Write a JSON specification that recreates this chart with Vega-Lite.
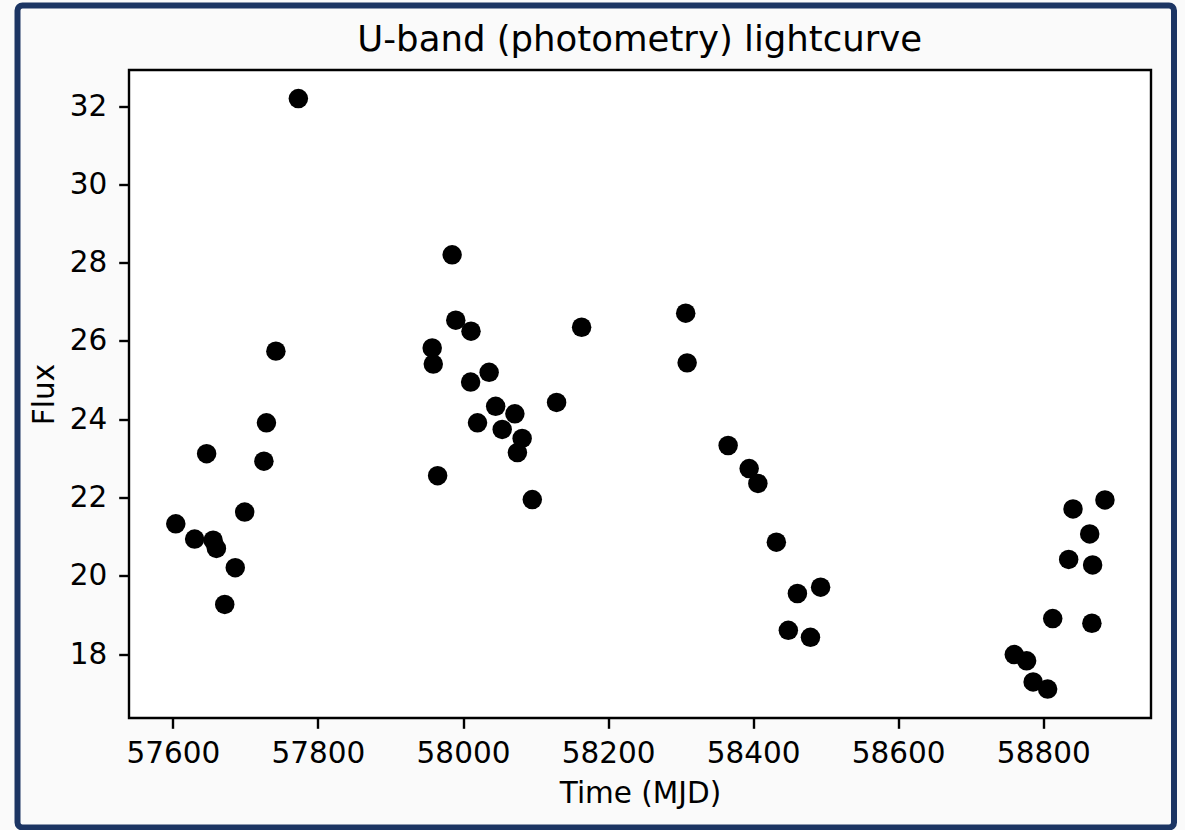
{
  "$schema": "https://vega.github.io/schema/vega-lite/v6.json",
  "autosize": {"type": "none"},
  "width": 1156.5,
  "height": 822,
  "padding": {"left": 17.5, "top": 5.5, "right": 11, "bottom": 2.5},
  "background": "#fafafa",
  "config": {
    "font": "DejaVu Sans",
    "view": {"fill": "#fafafa", "stroke": "#1c3563", "strokeWidth": 6, "cornerRadius": 5},
    "axis": {
      "grid": false,
      "domain": false,
      "tickColor": "#000000",
      "tickSize": 10.3,
      "tickWidth": 2.4,
      "labelFont": "DejaVu Sans",
      "labelFontSize": 29.5,
      "labelColor": "#000000",
      "labelFlush": false,
      "labelOverlap": false,
      "titleFont": "DejaVu Sans",
      "titleFontSize": 29.5,
      "titleFontWeight": "normal",
      "titleColor": "#000000",
      "titleBaseline": "alphabetic"
    }
  },
  "title": {
    "text": "U-band (photometry) lightcurve",
    "font": "DejaVu Sans",
    "fontSize": 35.5,
    "fontWeight": "normal",
    "color": "#000000",
    "anchor": "middle",
    "frame": "group",
    "baseline": "alphabetic",
    "offset": -49,
    "dx": 44,
    "dy": 32
  },
  "encoding": {
    "x": {
      "type": "quantitative",
      "scale": {"domain": [57539.5, 58948.5], "range": [111.5, 1133.5], "nice": false, "zero": false},
      "axis": {
        "title": "Time (MJD)",
        "orient": "bottom",
        "offset": -109.5,
        "values": [57600, 57800, 58000, 58200, 58400, 58600, 58800],
        "format": "d",
        "labelBaseline": "alphabetic",
        "labelPadding": 34.2,
        "titleY": 84
      }
    },
    "y": {
      "type": "quantitative",
      "scale": {"domain": [16.37, 32.92], "range": [712.5, 64.5], "nice": false, "zero": false},
      "axis": {
        "title": "Flux",
        "orient": "left",
        "offset": -111.5,
        "values": [18, 20, 22, 24, 26, 28, 30, 32],
        "format": "d",
        "labelBaseline": "middle",
        "labelPadding": 12,
        "titleX": -76,
        "titleAngle": -90
      }
    }
  },
  "layer": [
    {
      "data": {"values": [{"x0": 57539.5, "x1": 58948.5, "y0": 16.37, "y1": 32.92}]},
      "mark": {"type": "rect", "fill": "#ffffff", "stroke": "#000000", "strokeWidth": 2.4},
      "encoding": {
        "x": {"field": "x0"},
        "x2": {"field": "x1"},
        "y": {"field": "y0"},
        "y2": {"field": "y1"}
      }
    },
    {
      "data": {
        "values": [
          {"mjd": 57604, "flux": 21.33},
          {"mjd": 57630, "flux": 20.94},
          {"mjd": 57646.5, "flux": 23.12},
          {"mjd": 57655.5, "flux": 20.91},
          {"mjd": 57660, "flux": 20.70},
          {"mjd": 57671.5, "flux": 19.27},
          {"mjd": 57686, "flux": 20.21},
          {"mjd": 57699, "flux": 21.63},
          {"mjd": 57725.5, "flux": 22.93},
          {"mjd": 57729, "flux": 23.91},
          {"mjd": 57742, "flux": 25.74},
          {"mjd": 57773, "flux": 32.19},
          {"mjd": 57957.5, "flux": 25.82},
          {"mjd": 57959, "flux": 25.41},
          {"mjd": 57965, "flux": 22.56},
          {"mjd": 57985, "flux": 28.20},
          {"mjd": 57990, "flux": 26.53},
          {"mjd": 58010.5, "flux": 24.95},
          {"mjd": 58011, "flux": 26.25},
          {"mjd": 58020, "flux": 23.91},
          {"mjd": 58036, "flux": 25.20},
          {"mjd": 58045, "flux": 24.33},
          {"mjd": 58054, "flux": 23.74},
          {"mjd": 58071.5, "flux": 24.14},
          {"mjd": 58075, "flux": 23.15},
          {"mjd": 58081.5, "flux": 23.51},
          {"mjd": 58095.5, "flux": 21.95},
          {"mjd": 58129, "flux": 24.43},
          {"mjd": 58163.5, "flux": 26.35},
          {"mjd": 58307, "flux": 26.71},
          {"mjd": 58309, "flux": 25.44},
          {"mjd": 58365.5, "flux": 23.33},
          {"mjd": 58394.5, "flux": 22.74},
          {"mjd": 58406.5, "flux": 22.36},
          {"mjd": 58432, "flux": 20.86},
          {"mjd": 58448.5, "flux": 18.61},
          {"mjd": 58461, "flux": 19.55},
          {"mjd": 58479, "flux": 18.43},
          {"mjd": 58493, "flux": 19.71},
          {"mjd": 58760, "flux": 17.99},
          {"mjd": 58777, "flux": 17.83},
          {"mjd": 58786, "flux": 17.29},
          {"mjd": 58806, "flux": 17.11},
          {"mjd": 58813, "flux": 18.91},
          {"mjd": 58835, "flux": 20.42},
          {"mjd": 58841, "flux": 21.71},
          {"mjd": 58864, "flux": 21.07},
          {"mjd": 58867, "flux": 18.79},
          {"mjd": 58868, "flux": 20.28},
          {"mjd": 58885, "flux": 21.94}
        ]
      },
      "mark": {"type": "circle", "size": 380, "color": "#000000", "opacity": 1},
      "encoding": {
        "x": {"field": "mjd"},
        "y": {"field": "flux"}
      }
    }
  ]
}
